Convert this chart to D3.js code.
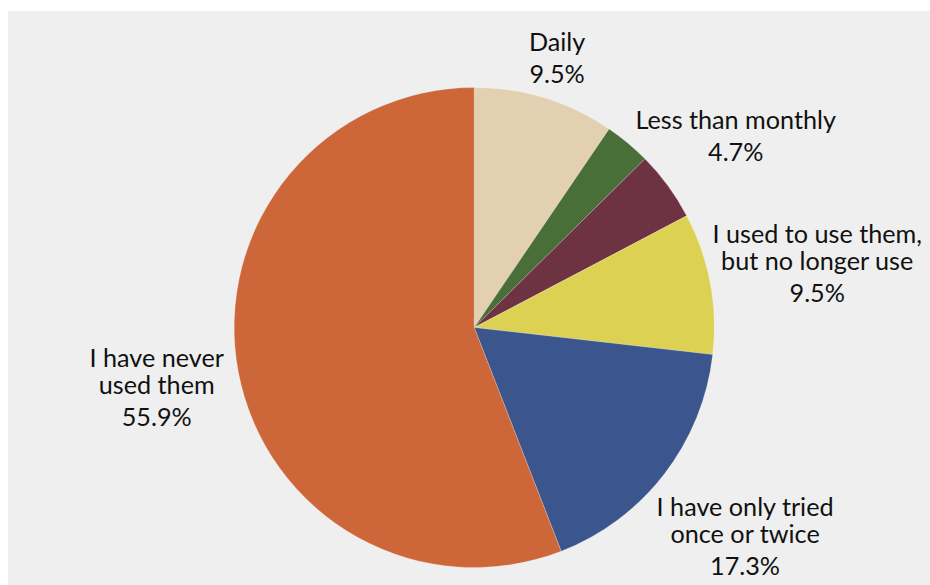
<!DOCTYPE html>
<html>
<head>
<meta charset="utf-8">
<script src="https://cdn.jsdelivr.net/npm/d3@7"></script>
<style>
  html, body { margin: 0; padding: 0; background: #ffffff; }
  svg { display: block; }
  .lbl { font-family: Lato, "Noto Sans", sans-serif; font-size: 25.2px; fill: #111111; }
</style>
</head>
<body>
<svg id="chart" width="930" height="585"></svg>
<script>
// Frequency of use, share of respondents (%)
const categories = [
  "Daily",
  "Weekly",
  "Less than monthly",
  "I used to use them, but no longer use",
  "I have only tried once or twice",
  "I have never used them"
];
const values = [9.5, 3.1, 4.7, 9.5, 17.3, 55.9];
const colors = ["#e2d0b0", "#4a6e38", "#6e3342", "#ddd153", "#3b558d", "#cd6739"];
// Wrapped label text per slice (null = slice carries no label)
const labelLines = [
  ["Daily"],
  null,
  ["Less than monthly"],
  ["I used to use them,", "but no longer use"],
  ["I have only tried", "once or twice"],
  ["I have never", "used them"]
];

// Layout
const W = 930, H = 585;
const cx = 474.2, cy = 327.5, radius = 240;
const labelDist = [282, 0, 324, 349, 342, 323]; // distance of label block centre along mid-angle
const lineStep = 27, pctStep = 32, capH = 18;

const svg = d3.select("#chart");

svg.append("rect")
  .attr("x", 8).attr("y", 11)
  .attr("width", W - 8).attr("height", H - 11)
  .attr("fill", "#efefef");

const data = categories.map((c, i) => ({ name: c, value: values[i], color: colors[i], lines: labelLines[i], dist: labelDist[i] }));

const pie = d3.pie().sort(null).value(d => d.value).startAngle(0).endAngle(2 * Math.PI);
const arc = d3.arc().innerRadius(0).outerRadius(radius);
const arcs = pie(data);

const g = svg.append("g").attr("transform", `translate(${cx},${cy})`);

g.selectAll("path.slice")
  .data(arcs)
  .join("path")
  .attr("class", "slice")
  .attr("d", arc)
  .attr("fill", d => d.data.color)
  .attr("stroke", "rgba(255,255,255,0.35)")
  .attr("stroke-width", 0.6);

const fmt = v => d3.format(".1f")(v) + "%";

arcs.forEach(a => {
  const d = a.data;
  if (!d.lines) return;
  const mid = (a.startAngle + a.endAngle) / 2;
  const lx = d.dist * Math.sin(mid);
  const ly = -d.dist * Math.cos(mid);
  const rows = d.lines.map((t, i) => ({ text: t, off: i * lineStep }));
  rows.push({ text: fmt(d.value), off: (d.lines.length - 1) * lineStep + pctStep });
  const blockH = capH + rows[rows.length - 1].off;
  const firstBase = ly - blockH / 2 + capH;
  const t = g.append("text")
    .attr("class", "lbl")
    .attr("text-anchor", "middle");
  rows.forEach(r => {
    t.append("tspan")
      .attr("x", lx)
      .attr("y", firstBase + r.off)
      .text(r.text);
  });
});
</script>
</body>
</html>
